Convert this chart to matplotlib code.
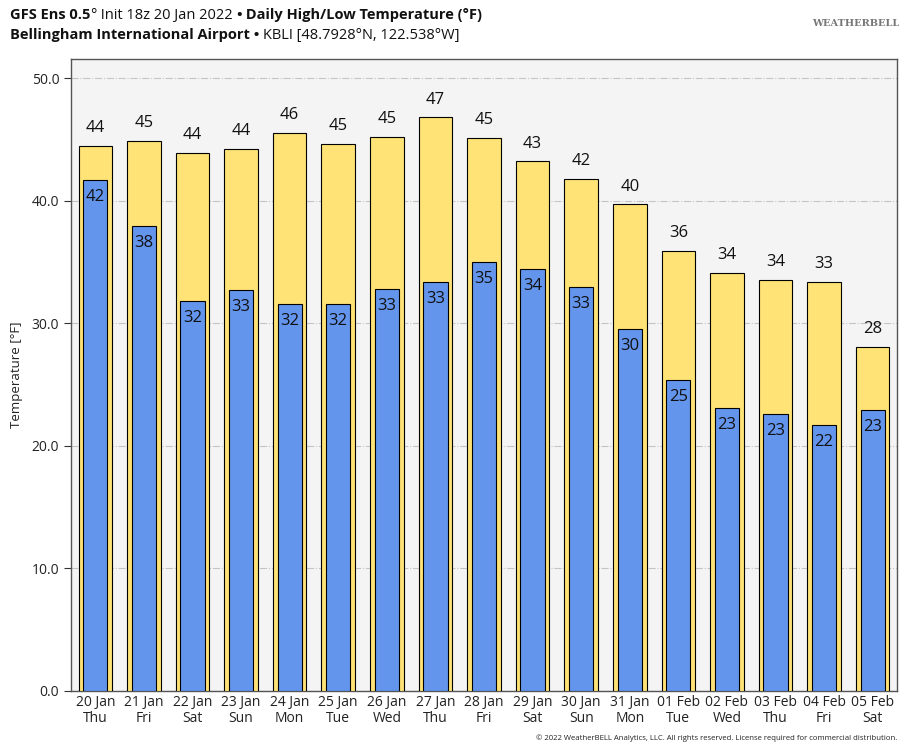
import matplotlib
matplotlib.use("Agg")
import matplotlib.pyplot as plt
import numpy as np

plt.rcParams['font.family'] = ['Open Sans', 'Noto Sans', 'DejaVu Sans']

dates = ["20 Jan", "21 Jan", "22 Jan", "23 Jan", "24 Jan", "25 Jan", "26 Jan", "27 Jan",
         "28 Jan", "29 Jan", "30 Jan", "31 Jan", "01 Feb", "02 Feb", "03 Feb", "04 Feb", "05 Feb"]
days = ["Thu", "Fri", "Sat", "Sun", "Mon", "Tue", "Wed", "Thu",
        "Fri", "Sat", "Sun", "Mon", "Tue", "Wed", "Thu", "Fri", "Sat"]
highs = [44.45, 44.86, 43.88, 44.2, 45.5, 44.6, 45.2, 46.8, 45.1, 43.2, 41.76, 39.7,
         35.9, 34.1, 33.55, 33.4, 28.06]
lows = [41.7, 37.9, 31.8, 32.7, 31.6, 31.6, 32.8, 33.4, 35.0, 34.4, 32.95, 29.5,
        25.4, 23.1, 22.6, 21.7, 22.9]
yticks = [0, 10, 20, 30, 40, 50]

fig = plt.figure(figsize=(9.14, 7.5), dpi=100)
ax = fig.add_axes([71/914, 1-691/750, 826/914, 632/750])
ax.set_facecolor('#f4f4f4')

x = np.arange(len(dates))
ax.bar(x, highs, width=0.69, color='#ffe377', edgecolor='black', linewidth=0.8, zorder=3)
ax.bar(x, lows, width=0.5, color='#6495ed', edgecolor='black', linewidth=0.8, zorder=4)

for xi, h, l in zip(x, highs, lows):
    ax.annotate(f"{int(h + 0.5):d}", (xi, h), xytext=(0, 7), textcoords='offset points',
                ha='center', va='bottom', fontsize=12, color='#111111', zorder=5)
    ax.annotate(f"{int(l + 0.5):d}", (xi, l), xytext=(0, -6.5), textcoords='offset points',
                ha='center', va='top', fontsize=12, color='#111111', zorder=5)

ax.set_xlim(-0.5, 16.5)
ax.set_ylim(0, 51.55)
ax.set_yticks(yticks)
ax.set_yticklabels([f"{v:.1f}" for v in yticks], fontsize=10, color='#222222')
ax.set_xticks(x)
ax.set_xticklabels([f"{d}\n{w}" for d, w in zip(dates, days)], fontsize=10, color='#222222',
                   linespacing=1.12)
ax.tick_params(axis='x', length=0, pad=3)
ax.tick_params(axis='y', length=5, direction='out', color='#333333')
ax.yaxis.grid(True, linestyle='-.', color='#c4c4c4', linewidth=0.8, zorder=0)
ax.set_axisbelow(True)
for s in ax.spines.values():
    s.set_color('#555555')
    s.set_linewidth(1.0)
ax.set_ylabel("Temperature [°F]", fontsize=9.5, color='#222222', labelpad=6)

renderer = fig.canvas.get_renderer()

def chain(pieces, x0_px, y_px, size=10.5):
    xp = x0_px
    for txt, wt in pieces:
        t = fig.text(xp / 914, 1 - y_px / 750, txt, fontsize=size, fontweight=wt,
                     ha='left', va='baseline', color='#111111')
        bb = t.get_window_extent(renderer=renderer)
        xp = bb.x1

chain([("GFS Ens 0.5", 'bold'), ("°", 'normal'), (" Init 18z 20 Jan 2022 ", 'normal'),
       ("•", 'bold'), (" Daily High/Low Temperature (°F)", 'bold')], 10, 19)
chain([("Bellingham International Airport", 'bold'), (" • ", 'bold'),
       ("KBLI [48.7928°N, 122.538°W]", 'normal')], 10, 39)

fig.text(856/914, 1-24/750, "WEATHERBELL", fontsize=7, color='#777777', ha='center',
         va='center', fontweight='bold', family='DejaVu Serif')

fig.text(897/914, 1-738/750,
         "© 2022 WeatherBELL Analytics, LLC. All rights reserved. License required for commercial distribution.",
         fontsize=5.6, ha='right', va='center', color='#222222')

fig.savefig("out.png", dpi=100)
